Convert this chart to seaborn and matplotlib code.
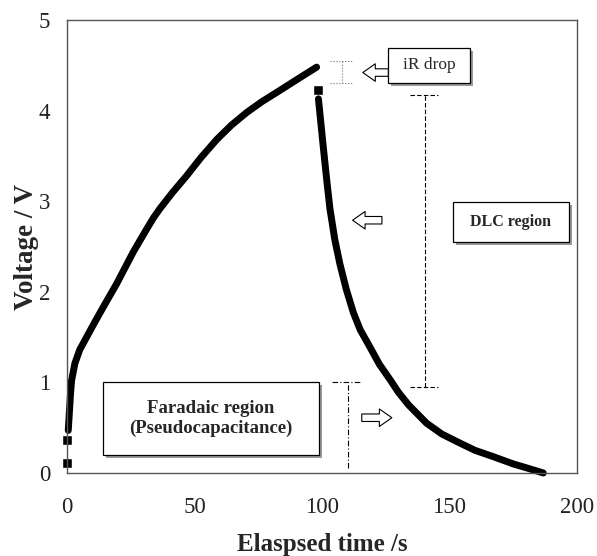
import matplotlib
matplotlib.use("Agg")
import matplotlib.pyplot as plt
import seaborn as sns
from matplotlib.patches import Rectangle

# ---- data ----
charge_t = [0.5, 1.0, 1.4, 1.8, 3.1, 5, 7.7, 11, 14.2, 19.5, 26, 31.2, 34, 36.5, 41.5, 46.9, 52.5, 58.7, 64.5, 70.5, 76.5, 82.2, 90, 97.9]
charge_v = [0.47, 0.7, 0.88, 1.02, 1.21, 1.36, 1.5, 1.67, 1.83, 2.09, 2.44, 2.69, 2.82, 2.92, 3.1, 3.28, 3.48, 3.68, 3.84, 3.98, 4.1, 4.2, 4.34, 4.48]
discharge_t = [98.6, 99.5, 100.5, 101.8, 103.1, 105, 107, 109.5, 112.3, 115, 118.8, 122.5, 126.7, 130, 134, 141, 147, 154.1, 160, 167.2, 175, 181, 186.8]
discharge_v = [4.13, 3.88, 3.6, 3.25, 2.92, 2.58, 2.31, 2.03, 1.77, 1.58, 1.39, 1.2, 1.03, 0.89, 0.75, 0.55, 0.43, 0.33, 0.25, 0.18, 0.1, 0.05, 0.0]
single_t = [0, 0, 98.6]
single_v = [0.11, 0.36, 4.23]
x_ticks = [0, 50, 100, 150, 200]
y_ticks = [0, 1, 2, 3, 4, 5]

sns.set_style("white")
plt.rcParams['font.family'] = ['Liberation Serif', 'DejaVu Serif']

fig = plt.figure(figsize=(5.97, 5.56), dpi=100)
ax = fig.add_axes([0.1122, 0.1493, 0.8543, 0.8147])

sns.lineplot(x=charge_t, y=charge_v, sort=False, color='black', lw=5, ax=ax, clip_on=False)
sns.lineplot(x=discharge_t, y=discharge_v, sort=False, color='black', lw=5, ax=ax, clip_on=False)
sns.scatterplot(x=single_t, y=single_v, marker='s', color='black', s=28, ax=ax, clip_on=False, edgecolor='black')

ax.set_xlim(0, 200)
ax.set_ylim(0, 5)
ax.set_xticks(x_ticks)
ax.set_yticks(y_ticks)
ax.tick_params(direction='in', length=5, width=0.8, labelsize=16.5, colors='#222222')
ax.tick_params(axis='x', pad=17)
ax.tick_params(axis='y', pad=12)
for s in ax.spines.values():
    s.set_color('#555555')
    s.set_linewidth(1.0)
ax.set_xlabel('Elaspsed time /s', fontsize=18, fontweight='bold', labelpad=11)
ax.set_ylabel('Voltage / V', fontsize=19.5, fontweight='bold', labelpad=0)

def shadow_box(x0, y0, x1, y1):
    dx = 3 / 2.55
    dy = 3 / 90.6
    ax.add_patch(Rectangle((x0 + dx, y0 - dy), x1 - x0, y1 - y0, facecolor='#999999', edgecolor='none', zorder=4))
    ax.add_patch(Rectangle((x0, y0), x1 - x0, y1 - y0, facecolor='white', edgecolor='black', lw=0.9, zorder=5))

# iR drop
shadow_box(126, 4.30, 158, 4.69)
ax.text(142, 4.50, 'iR drop', ha='center', va='center', fontsize=12.5, zorder=6)
# DLC region
shadow_box(151.4, 2.55, 196.7, 2.99)
ax.text(174, 2.77, 'DLC region', ha='center', va='center', fontsize=11.5, fontweight='bold', zorder=6)
# Faradaic
shadow_box(14, 0.2, 99, 1.0)
ax.text(56.5, 0.6, 'Faradaic region\n(Pseudocapacitance)', ha='center', va='center', fontsize=13.5,
        fontweight='bold', linespacing=1.2, zorder=6)

# iR dotted I-beam
ax.plot([107.8, 107.8], [4.30, 4.55], color='#777777', lw=0.8, ls=':')
ax.plot([103, 112], [4.55, 4.55], color='#777777', lw=0.8, ls=':')
ax.plot([103, 112], [4.30, 4.30], color='#777777', lw=0.8, ls=':')
# DLC dashed line
ax.plot([140.4, 140.4], [0.95, 4.17], color='black', lw=0.8, ls=(0, (4, 2)))
ax.plot([134.5, 145.5], [4.17, 4.17], color='black', lw=0.8, ls=(0, (4, 2)))
ax.plot([134.5, 145.5], [0.95, 0.95], color='black', lw=0.8, ls=(0, (4, 2)))
# Faradaic dash-dot line
ax.plot([110.3, 110.3], [0.05, 1.0], color='black', lw=0.8, ls=(0, (5, 2, 1, 2)))
ax.plot([104, 115.7], [1.0, 1.0], color='black', lw=0.8, ls=(0, (5, 2, 1, 2)))

# hollow arrows
arrow_style = "simple,head_length=0.5,head_width=0.7,tail_width=0.3"
def hollow_arrow(x_from, x_to, y):
    ax.annotate('', xy=(x_to, y), xytext=(x_from, y),
                arrowprops=dict(arrowstyle=arrow_style, fc='white', ec='black', lw=0.8,
                                shrinkA=0, shrinkB=0, mutation_scale=18), zorder=6)

hollow_arrow(126, 116, 4.42)
hollow_arrow(123.5, 112, 2.79)
hollow_arrow(115.6, 127.4, 0.61)

fig.savefig('out.png', dpi=100)
